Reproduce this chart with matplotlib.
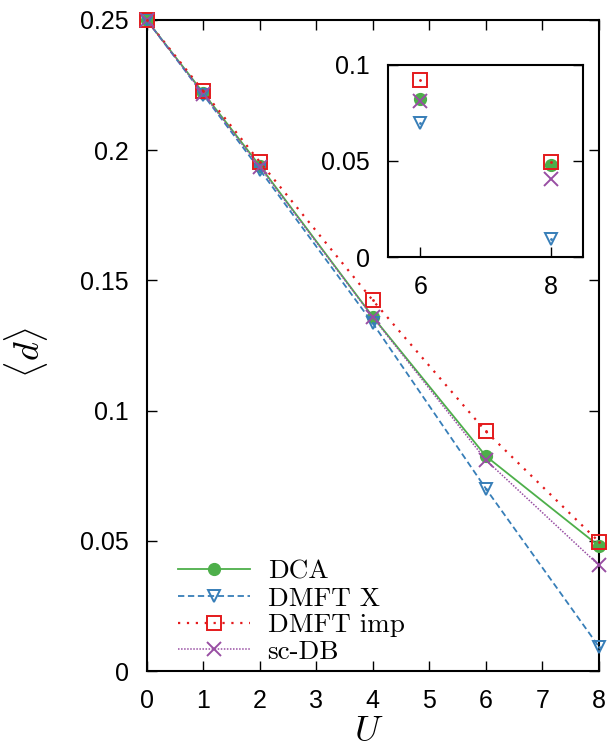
import matplotlib
matplotlib.use("Agg")
import matplotlib.pyplot as plt

plt.rcParams['mathtext.fontset'] = 'cm'
plt.rcParams['font.family'] = ['Liberation Sans', 'DejaVu Sans']

U = [0, 1, 2, 4, 6, 8]
dca = [0.25, 0.2220, 0.1940, 0.1360, 0.0825, 0.0480]
dmft_x = [0.25, 0.2213, 0.1925, 0.1335, 0.0700, 0.0093]
dmft_imp = [0.25, 0.2227, 0.1955, 0.1423, 0.0920, 0.0496]
sc_db = [0.25, 0.2216, 0.1935, 0.1358, 0.0810, 0.0406]

green = '#4DAF4A'
blue = '#377EB8'
red = '#E41A1C'
purple = '#984EA3'

fig = plt.figure(figsize=(6.08, 7.45), dpi=100)
ax = fig.add_axes([0.2413, 0.0993, 0.7439, 0.8739])


def draw_series(a, with_lines=True, clip=False):
    ls = lambda s: s if with_lines else 'none'
    a.plot(U, dca, color=green, ls=ls('-'), lw=1.3, marker='o', ms=8.5,
           label='DCA', clip_on=clip, zorder=3)
    a.plot(U, dmft_x, color=blue, ls=ls((0, (3.5, 2))), lw=1.3, marker='v', ms=9,
           mfc='none', mew=1.4, label='DMFT X', clip_on=clip, zorder=3)
    a.plot(U, dmft_imp, color=red, ls=ls((0, (1, 3))), lw=1.6, marker='s', ms=9.5,
           mfc='none', mew=1.4, label='DMFT imp', clip_on=clip, zorder=3)
    a.plot(U, sc_db, color=purple, ls=ls((0, (1, 1))), lw=1.1, marker='x', ms=9.5,
           mew=1.4, label='sc-DB', clip_on=clip, zorder=3)
    # small centre dots of the open symbols
    a.plot(U, dmft_x, ls='none', marker='.', ms=2, color=blue, clip_on=clip, zorder=4)
    a.plot(U, dmft_imp, ls='none', marker='.', ms=2, color=red, clip_on=clip, zorder=4)


draw_series(ax)
ax.set_xlim(0, 8)
ax.set_ylim(0, 0.25)
ax.set_xticks(range(0, 9))
ax.set_yticks([0, 0.05, 0.1, 0.15, 0.2, 0.25])
ax.set_yticklabels(['0', '0.05', '0.1', '0.15', '0.2', '0.25'])
ax.tick_params(direction='in', length=7, width=1, labelsize=18, pad=13,
               top=True, right=True)
for sp in ax.spines.values():
    sp.set_linewidth(1.5)
ax.set_xlabel(r'$U$', fontsize=26)
ax.set_ylabel(r'$\langle d\rangle$', fontsize=26)
ax.xaxis.set_label_coords(0.49, -0.066)
ax.yaxis.set_label_coords(-0.214, 0.49)

leg = ax.legend(loc='lower left', bbox_to_anchor=(0.069, 0.011), frameon=False,
                numpoints=1, handlelength=2.65, handletextpad=0.66,
                labelspacing=0.1, borderpad=0, borderaxespad=0,
                prop={'family': 'cmr10', 'size': 19.5})

# inset
ins = fig.add_axes([0.638, 0.655, 0.321, 0.2578])
draw_series(ins, with_lines=False, clip=True)
ins.set_xlim(5.5, 8.5)
ins.set_ylim(0, 0.1)
ins.set_xticks([6, 8])
ins.set_yticks([0, 0.05, 0.1])
ins.set_yticklabels(['0', '0.05', '0.1'])
ins.tick_params(direction='in', length=7, width=1, labelsize=18, pad=13, right=True)
for sp in ins.spines.values():
    sp.set_linewidth(1.5)

fig.savefig('out.png', dpi=100)
